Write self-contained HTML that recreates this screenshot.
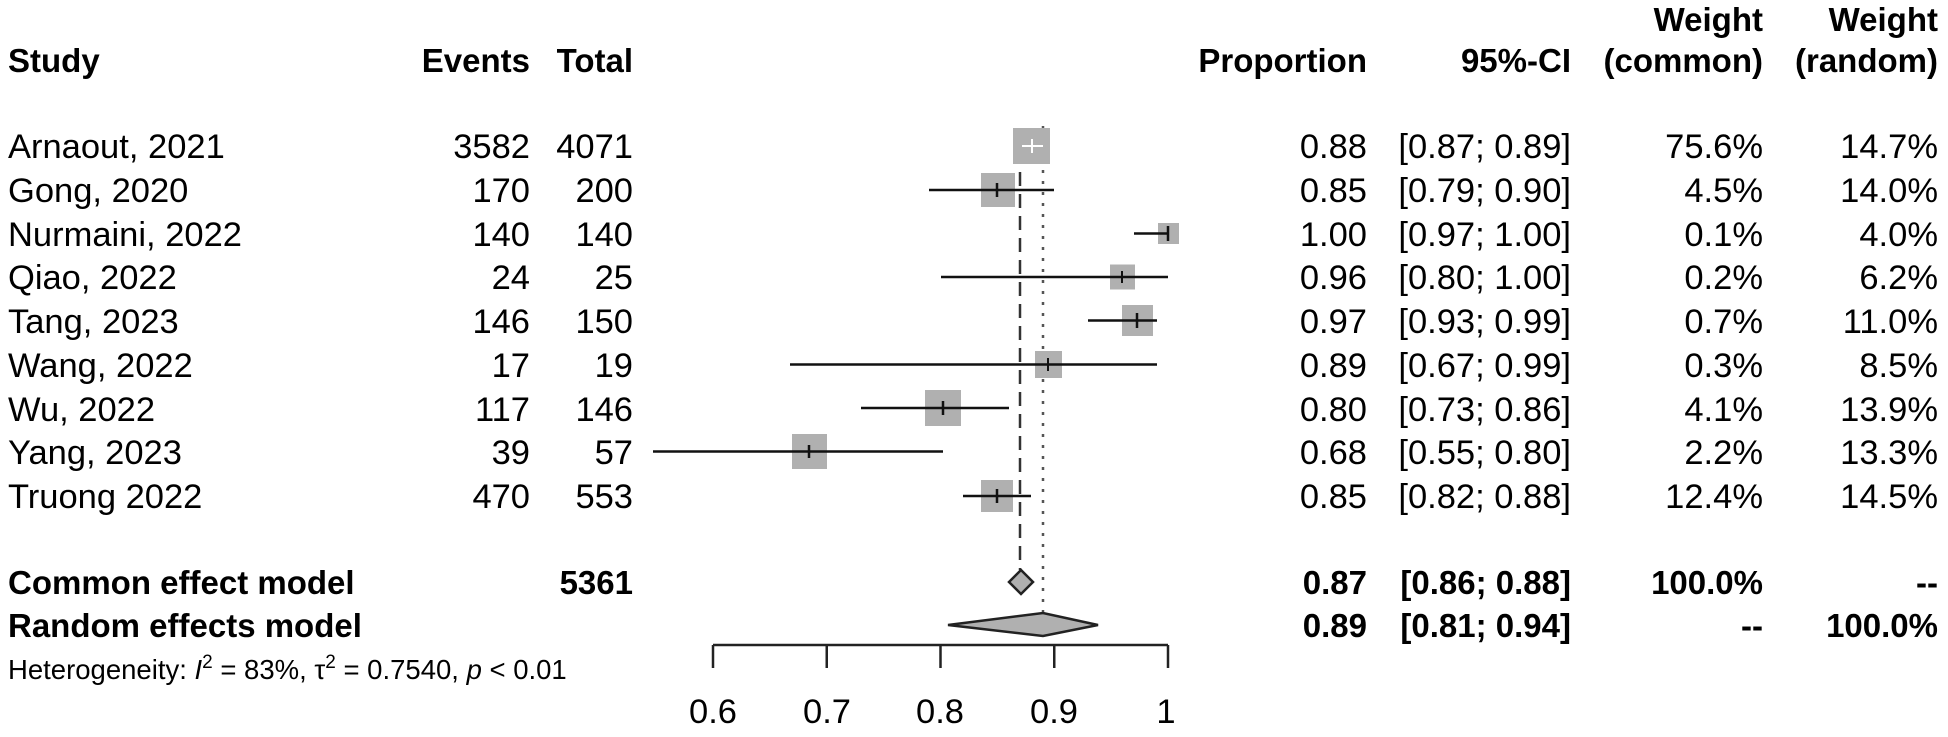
<!DOCTYPE html>
<html><head><meta charset="utf-8"><style>
html,body{margin:0;padding:0;background:#fff;}
svg{display:block;}
text{font-family:"Liberation Sans",Arial,sans-serif;font-size:34.5px;fill:#000;}
.b{font-weight:bold;font-size:33px;}
.r{text-anchor:end;}
.s{font-size:27.5px;}
</style></head><body>
<svg width="1948" height="737" viewBox="0 0 1948 737" xmlns="http://www.w3.org/2000/svg">
<!-- headers -->
<text class="b" x="8" y="72">Study</text>
<text class="b r" x="530" y="72">Events</text>
<text class="b r" x="633" y="72">Total</text>
<text class="b r" x="1367" y="72">Proportion</text>
<text class="b r" x="1571" y="72">95%-CI</text>
<text class="b r" x="1763" y="31">Weight</text>
<text class="b r" x="1763" y="72">(common)</text>
<text class="b r" x="1938" y="31">Weight</text>
<text class="b r" x="1938" y="72">(random)</text>

<!-- reference lines -->
<line x1="1020" y1="128" x2="1020" y2="570" stroke="#333" stroke-width="2.5" stroke-dasharray="14,8"/>
<line x1="1043" y1="126" x2="1043" y2="612" stroke="#555" stroke-width="2.5" stroke-dasharray="3,8"/>

<g id="rows">
<text x="8" y="158">Arnaout, 2021</text><text class="r" x="530" y="158">3582</text><text class="r" x="633" y="158">4071</text>
<text class="r" x="1367" y="158">0.88</text><text class="r" x="1571" y="158">[0.87; 0.89]</text><text class="r" x="1763" y="158">75.6%</text><text class="r" x="1938" y="158">14.7%</text>
<rect x="1013" y="128" width="37" height="36" fill="#b0b0b0"/>
<line x1="1022" y1="146" x2="1043" y2="146" stroke="#fff" stroke-width="2"/><line x1="1032" y1="139" x2="1032" y2="153" stroke="#fff" stroke-width="2"/>

<text x="8" y="202">Gong, 2020</text><text class="r" x="530" y="202">170</text><text class="r" x="633" y="202">200</text>
<text class="r" x="1367" y="202">0.85</text><text class="r" x="1571" y="202">[0.79; 0.90]</text><text class="r" x="1763" y="202">4.5%</text><text class="r" x="1938" y="202">14.0%</text>
<rect x="981" y="173" width="34" height="34" fill="#b0b0b0"/>
<line x1="929" y1="190" x2="1054" y2="190" stroke="#111" stroke-width="2.5"/><line x1="997" y1="183" x2="997" y2="197" stroke="#111" stroke-width="2.5"/>

<text x="8" y="246">Nurmaini, 2022</text><text class="r" x="530" y="246">140</text><text class="r" x="633" y="246">140</text>
<text class="r" x="1367" y="246">1.00</text><text class="r" x="1571" y="246">[0.97; 1.00]</text><text class="r" x="1763" y="246">0.1%</text><text class="r" x="1938" y="246">4.0%</text>
<rect x="1158" y="223" width="21" height="21" fill="#b0b0b0"/>
<line x1="1134" y1="233.5" x2="1168" y2="233.5" stroke="#111" stroke-width="2.5"/><line x1="1168" y1="226" x2="1168" y2="241" stroke="#111" stroke-width="2.5"/>

<text x="8" y="289">Qiao, 2022</text><text class="r" x="530" y="289">24</text><text class="r" x="633" y="289">25</text>
<text class="r" x="1367" y="289">0.96</text><text class="r" x="1571" y="289">[0.80; 1.00]</text><text class="r" x="1763" y="289">0.2%</text><text class="r" x="1938" y="289">6.2%</text>
<rect x="1110" y="264.5" width="25" height="25" fill="#b0b0b0"/>
<line x1="941" y1="277" x2="1168" y2="277" stroke="#111" stroke-width="2.5"/><line x1="1122" y1="271" x2="1122" y2="283" stroke="#111" stroke-width="2"/>

<text x="8" y="333">Tang, 2023</text><text class="r" x="530" y="333">146</text><text class="r" x="633" y="333">150</text>
<text class="r" x="1367" y="333">0.97</text><text class="r" x="1571" y="333">[0.93; 0.99]</text><text class="r" x="1763" y="333">0.7%</text><text class="r" x="1938" y="333">11.0%</text>
<rect x="1122" y="305" width="31" height="31" fill="#b0b0b0"/>
<line x1="1088" y1="320.5" x2="1157" y2="320.5" stroke="#111" stroke-width="2.5"/><line x1="1137" y1="313" x2="1137" y2="328" stroke="#111" stroke-width="2.5"/>

<text x="8" y="377">Wang, 2022</text><text class="r" x="530" y="377">17</text><text class="r" x="633" y="377">19</text>
<text class="r" x="1367" y="377">0.89</text><text class="r" x="1571" y="377">[0.67; 0.99]</text><text class="r" x="1763" y="377">0.3%</text><text class="r" x="1938" y="377">8.5%</text>
<rect x="1035" y="351" width="27" height="27" fill="#b0b0b0"/>
<line x1="790" y1="364.5" x2="1157" y2="364.5" stroke="#111" stroke-width="2.5"/><line x1="1048" y1="358" x2="1048" y2="371" stroke="#111" stroke-width="2"/>

<text x="8" y="421">Wu, 2022</text><text class="r" x="530" y="421">117</text><text class="r" x="633" y="421">146</text>
<text class="r" x="1367" y="421">0.80</text><text class="r" x="1571" y="421">[0.73; 0.86]</text><text class="r" x="1763" y="421">4.1%</text><text class="r" x="1938" y="421">13.9%</text>
<rect x="925" y="390" width="36" height="36" fill="#b0b0b0"/>
<line x1="861" y1="408" x2="1009" y2="408" stroke="#111" stroke-width="2.5"/><line x1="943" y1="401" x2="943" y2="415" stroke="#111" stroke-width="2.5"/>

<text x="8" y="464">Yang, 2023</text><text class="r" x="530" y="464">39</text><text class="r" x="633" y="464">57</text>
<text class="r" x="1367" y="464">0.68</text><text class="r" x="1571" y="464">[0.55; 0.80]</text><text class="r" x="1763" y="464">2.2%</text><text class="r" x="1938" y="464">13.3%</text>
<rect x="792" y="434" width="35" height="35" fill="#b0b0b0"/>
<line x1="653" y1="451.5" x2="943" y2="451.5" stroke="#111" stroke-width="2.5"/><line x1="809" y1="445" x2="809" y2="458" stroke="#111" stroke-width="2.5"/>

<text x="8" y="508">Truong 2022</text><text class="r" x="530" y="508">470</text><text class="r" x="633" y="508">553</text>
<text class="r" x="1367" y="508">0.85</text><text class="r" x="1571" y="508">[0.82; 0.88]</text><text class="r" x="1763" y="508">12.4%</text><text class="r" x="1938" y="508">14.5%</text>
<rect x="981" y="480" width="32" height="32" fill="#b0b0b0"/>
<line x1="963" y1="496" x2="1031" y2="496" stroke="#111" stroke-width="2.5"/><line x1="997" y1="489" x2="997" y2="503" stroke="#111" stroke-width="2.5"/>
</g>

<!-- summary -->
<text class="b" x="8" y="594">Common effect model</text><text class="b r" x="633" y="594">5361</text>
<text class="b r" x="1367" y="594">0.87</text><text class="b r" x="1571" y="594">[0.86; 0.88]</text><text class="b r" x="1763" y="594">100.0%</text><text class="b r" x="1938" y="594">--</text>
<polygon points="1009,582 1021,570 1033,582 1021,594" fill="#b0b0b0" stroke="#222" stroke-width="2.5"/>
<text class="b" x="8" y="637">Random effects model</text>
<text class="b r" x="1367" y="637">0.89</text><text class="b r" x="1571" y="637">[0.81; 0.94]</text><text class="b r" x="1763" y="637">--</text><text class="b r" x="1938" y="637">100.0%</text>
<polygon points="948,625 1043,613 1098,625 1043,636" fill="#b0b0b0" stroke="#222" stroke-width="2.5"/>

<text class="s" x="8" y="679">Heterogeneity: <tspan font-style="italic">I</tspan><tspan dy="-11" font-size="19">2</tspan><tspan dy="11"> = 83%, τ</tspan><tspan dy="-11" font-size="19">2</tspan><tspan dy="11"> = 0.7540, </tspan><tspan font-style="italic">p</tspan> &lt; 0.01</text>

<!-- axis -->
<line x1="713" y1="645" x2="1168" y2="645" stroke="#222" stroke-width="2.5"/>
<g stroke="#222" stroke-width="2.5">
<line x1="713" y1="645" x2="713" y2="668"/><line x1="826.75" y1="645" x2="826.75" y2="668"/><line x1="940.5" y1="645" x2="940.5" y2="668"/><line x1="1054.25" y1="645" x2="1054.25" y2="668"/><line x1="1168" y1="645" x2="1168" y2="668"/>
</g>
<g text-anchor="middle">
<text x="713" y="723">0.6</text><text x="827" y="723">0.7</text><text x="940" y="723">0.8</text><text x="1054" y="723">0.9</text><text x="1166" y="723">1</text>
</g>
</svg>
</body></html>
